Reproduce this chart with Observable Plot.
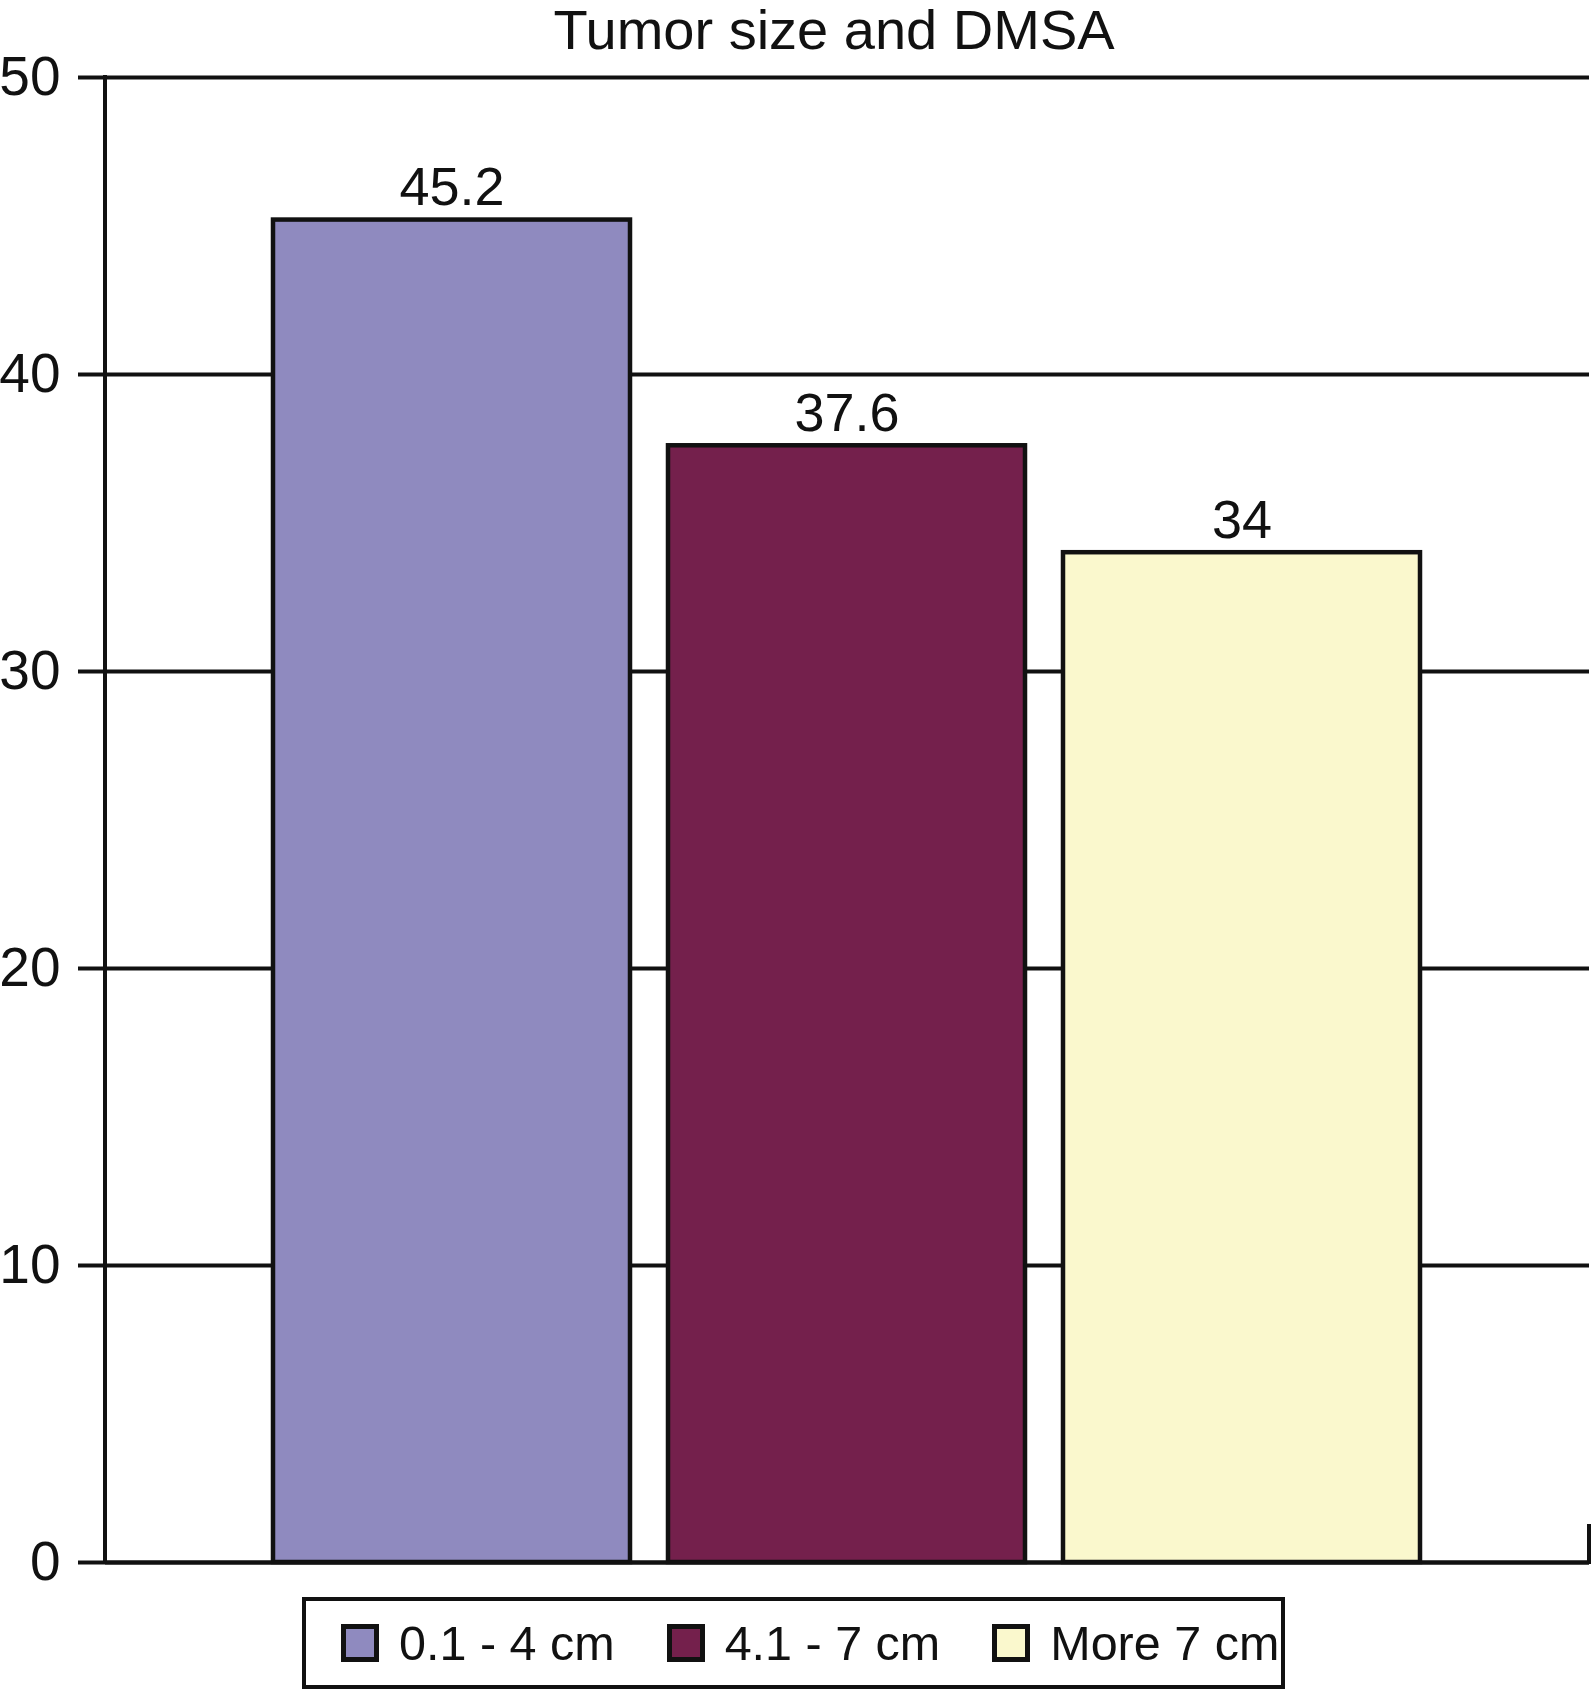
<!DOCTYPE html>
<html>
<head>
<meta charset="utf-8">
<script src="https://cdn.jsdelivr.net/npm/d3@7"></script>
<script src="https://cdn.jsdelivr.net/npm/@observablehq/plot@0.6"></script>
<style>
  html, body { margin: 0; padding: 0; background: #fff; }
  body { width: 1591px; font-family: "Liberation Sans", Arial, Helvetica, sans-serif; color: #111; }
  #title { box-sizing: border-box; height: 50px; padding-top: 2px; padding-left: 77px; text-align: center;
           font-size: 56px; line-height: 55px; white-space: nowrap; overflow: visible; }
  #chart svg { display: block; overflow: visible; }
  #legend { box-sizing: border-box; margin-top: 7px; margin-left: 302px; width: 983px; height: 92px;
            border: 4px solid #111; display: flex; align-items: center; padding-left: 35px; gap: 52px; }
  .item { display: flex; align-items: center; }
  .sw { box-sizing: border-box; width: 38px; height: 38px; border: 5px solid #111; margin-right: 20px; }
  .lab { font-size: 48.5px; line-height: 49px; white-space: nowrap; }
</style>
</head>
<body>
<div id="title"></div>
<div id="chart"></div>
<div id="legend"></div>
<script>
const titleText = "Tumor size and DMSA";
const categories = ["0.1 - 4 cm", "4.1 - 7 cm", "More 7 cm"];
const values = [45.2, 37.6, 34];
const colors = ["#8F8ABF", "#74204C", "#FAF8CD"];
const yTicks = [0, 10, 20, 30, 40, 50];

const data = categories.map((c, i) => ({size: c, value: values[i]}));

document.getElementById("title").textContent = titleText;

const ink = "#111";

const frameLines = (index, scales, channels, dims) => {
  const g = d3.create("svg:g").attr("stroke", ink).attr("stroke-width", 4).attr("fill", "none");
  const y0 = scales.y(0), yTop = scales.y(d3.max(yTicks));
  g.append("line").attr("x1", dims.marginLeft).attr("x2", dims.marginLeft).attr("y1", yTop - 2).attr("y2", y0 + 2);
  const xr = dims.width - dims.marginRight;
  g.append("line").attr("x1", xr).attr("x2", xr).attr("y1", y0 + 2).attr("y2", y0 - 38);
  return g.node();
};

const plot = Plot.plot({
  width: 1591,
  height: 1540,
  marginLeft: 105,
  marginRight: 2,
  marginTop: 27,
  marginBottom: 28,
  style: {fontFamily: "'Liberation Sans', Arial, Helvetica, sans-serif", fontSize: "54px", color: ink, background: "#fff"},
  x: {type: "band", domain: categories, paddingInner: 0.095, paddingOuter: 0.424, axis: null, label: null},
  y: {domain: [0, 50], axis: null, label: null},
  color: {domain: categories, range: colors},
  marks: [
    Plot.ruleY(yTicks, {stroke: ink, strokeWidth: 4}),
    Plot.axisY({ticks: yTicks, tickSize: 27, tickPadding: 18, tickFormat: d => String(d), stroke: ink, strokeWidth: 4, fill: ink, fontSize: 55, label: null}),
    Plot.barY(data, {x: "size", y: "value", fill: "size", stroke: ink, strokeWidth: 4.5}),
    Plot.text(data, {x: "size", y: "value", text: d => String(d.value), lineAnchor: "middle", dy: -32, fontSize: 54, fill: ink}),
    Plot.ruleY([0], {stroke: ink, strokeWidth: 4}),
    frameLines
  ]
});
document.getElementById("chart").appendChild(plot);

const legend = d3.select("#legend");
categories.forEach((c, i) => {
  const it = legend.append("div").attr("class", "item");
  it.append("div").attr("class", "sw").style("background", colors[i]);
  it.append("div").attr("class", "lab").text(c);
});
</script>
</body>
</html>
